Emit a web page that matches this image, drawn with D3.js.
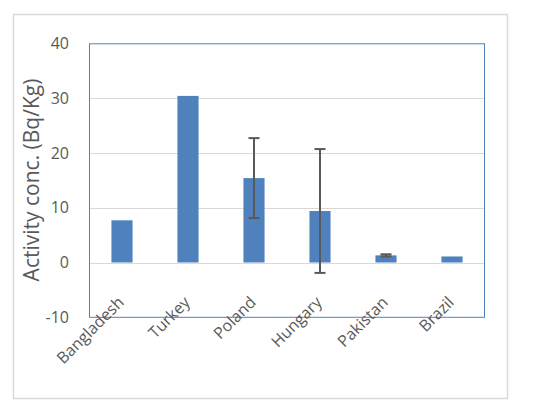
<!DOCTYPE html>
<html><head><meta charset="utf-8">
<script src="https://cdn.jsdelivr.net/npm/d3@7"></script>
<style>body{margin:0;background:#fff}</style>
</head><body>
<svg id="c" width="542" height="412"></svg>
<script>
const categories = ["Bangladesh","Turkey","Poland","Hungary","Pakistan","Brazil"];
const values = [7.7, 30.4, 15.4, 9.4, 1.3, 1.1];
const errors = [null, null, 7.3, 11.3, 0.2, null];
const yTicks = [-10, 0, 10, 20, 30, 40];
const yTitle = "Activity conc. (Bq/Kg)";

(function(){
const svg = d3.select("#c");
const font = "'Open Sans', 'Liberation Sans', sans-serif";
const pL = 89, pR = 485, pT = 43.3, pB = 317.3;

svg.append("rect").attr("x",13.5).attr("y",14.5).attr("width",494).attr("height",384)
  .attr("fill","#fff").attr("stroke","#d9d9d9").attr("stroke-width",1.5);

const x = d3.scaleBand().domain(categories).range([pL,pR]).paddingInner(0.68).paddingOuter(0.34);
const y = d3.scaleLinear().domain([-10,40]).range([pB,pT]);

svg.append("g").selectAll("line").data(yTicks.filter(t=>t>-10 && t<40)).join("line")
  .attr("x1",pL).attr("x2",pR).attr("y1",d=>Math.round(y(d))+0.5).attr("y2",d=>Math.round(y(d))+0.5)
  .attr("stroke","#d9d9d9").attr("stroke-width",1);

svg.append("g").selectAll("rect").data(values).join("rect")
  .attr("x",(d,i)=>x(categories[i])).attr("width",x.bandwidth())
  .attr("y",d=>y(Math.max(0,d))).attr("height",d=>Math.abs(y(d)-y(0)))
  .attr("fill","#4f81bd");

const eg = svg.append("g").attr("stroke","#595959").attr("stroke-width",2);
errors.forEach((e,i)=>{
  if(e==null) return;
  const cx = x(categories[i]) + x.bandwidth()/2;
  const y1 = y(values[i]+e), y2 = y(values[i]-e);
  eg.append("line").attr("x1",cx).attr("x2",cx).attr("y1",y1).attr("y2",y2);
  eg.append("line").attr("x1",cx-5.5).attr("x2",cx+5.5).attr("y1",y1).attr("y2",y1);
  eg.append("line").attr("x1",cx-5.5).attr("x2",cx+5.5).attr("y1",y2).attr("y2",y2);
});

svg.append("rect").attr("x",pL+0.5).attr("y",pT+0.5).attr("width",pR-pL-1).attr("height",pB-pT-0.5)
  .attr("fill","none").attr("stroke","#4f81bd").attr("stroke-width",1);

const yAxis = d3.axisLeft(y).tickValues(yTicks).tickFormat(d=>String(d)).tickSize(0).tickPadding(20);
const ga = svg.append("g").attr("transform",`translate(${pL},0)`).call(yAxis);
ga.select(".domain").remove();
ga.selectAll("text").attr("font-family",font).attr("font-size",16).attr("fill","#595959");

svg.append("g").selectAll("text").data(categories).join("text")
  .attr("transform",d=>`translate(${x(d)+x.bandwidth()/2-5},${y(0)+33}) rotate(-45)`)
  .attr("text-anchor","end").attr("dy","0.7em")
  .attr("font-family",font).attr("font-size",16).attr("fill","#595959")
  .text(d=>d);

svg.append("text").attr("transform",`translate(32,180) rotate(-90)`)
  .attr("text-anchor","middle").attr("dy","0.35em")
  .attr("font-family",font).attr("font-size",21).attr("fill","#595959").text(yTitle);
})();
</script>
</body></html>
